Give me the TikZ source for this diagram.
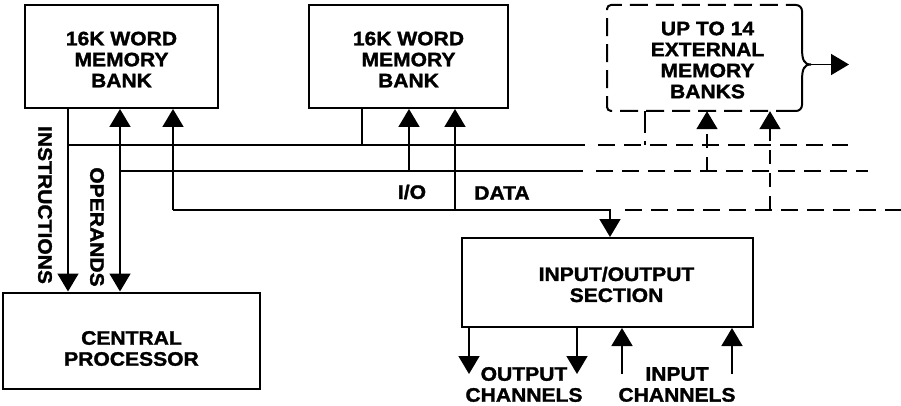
\documentclass[tikz,border=0pt]{standalone}
\usepackage{fontspec}
\setmainfont{Liberation Sans}[FakeStretch=1.08, BoldFeatures={FakeBold=1.5}]
\usetikzlibrary{arrows.meta}
\newcommand\lblfont{\fontsize{19.5}{21}\selectfont\bfseries}
\begin{document}
\begin{tikzpicture}[x=1pt,y=-1pt,
  box/.style={draw, line width=2pt, inner sep=0pt},
  lbl/.style={align=center, font=\lblfont, inner sep=0pt},
  ln/.style={line width=1.7pt},
  tip/.style={ln, -{Triangle[width=21pt,length=18pt]}},
  dsh/.style={ln, dash pattern=on 17pt off 9pt},
  vdsh/.style={ln, dash pattern=on 14pt off 9pt, -{Triangle[width=21pt,length=18pt]}}]
\useasboundingbox (0,0) rectangle (901,406);

% boxes
\node[box, minimum width=193pt, minimum height=103pt] (m1) at (121.5,56.5) {};
\node[lbl] (m1t) at ([yshift=-3pt]m1.center) {16K WORD\\MEMORY\\BANK};
\node[box, minimum width=199pt, minimum height=103pt] (m2) at (408.5,56.5) {};
\node[lbl] (m2t) at ([yshift=-3pt]m2.center) {16K WORD\\MEMORY\\BANK};
\node[inner sep=0pt, minimum width=195pt, minimum height=106pt] (m3) at (704.5,58) {};
\node[lbl] (m3t) at ([xshift=3pt,yshift=-2pt]m3.center) {UP TO 14\\EXTERNAL\\MEMORY\\BANKS};
\node[box, minimum width=257pt, minimum height=96pt] (cpu) at (131.5,340.5) {};
\node[lbl] (cput) at ([yshift=-8pt]cpu.center) {CENTRAL\\PROCESSOR};
\node[box, minimum width=291pt, minimum height=89pt] (io) at (607.5,282.5) {};
\node[lbl] (iot) at ([xshift=9pt,yshift=-2pt]io.center) {INPUT/OUTPUT\\SECTION};

% external bank outline
\draw[line width=2pt, dash pattern=on 18pt off 8pt, rounded corners=4pt]
  (794,111) -- (607,111) -- (607,5) -- (794,5);
\coordinate (br) at (811,64.5);
\coordinate (bo) at (849,64.5);
\draw[line width=2pt, rounded corners=6pt] (794,5) -- (802,5) -- (802,48);
\draw[line width=2pt] (802,48) .. controls (802,60) and (804,64.5) .. (br)
  .. controls (804,64.5) and (802,69) .. (802,81);
\draw[line width=2pt, rounded corners=6pt] (802,81) -- (802,111) -- (794,111);
\draw[tip] (br) -- (bo);

% bus coordinates
\coordinate (iA) at (68,145);
\coordinate (aS) at (585,145);
\coordinate (aD) at (598,145);
\coordinate (aE) at (848,145);
\coordinate (oB) at (120,171);
\coordinate (bS) at (583,171);
\coordinate (bD) at (596,171);
\coordinate (bE) at (868,171);
\coordinate (dC) at (173,210);
\coordinate (cC) at (610,210);
\coordinate (cD) at (625,210);
\coordinate (cE) at (901,210);

% instructions / operands
\draw[tip] (m1.south -| iA) -- (cpu.north -| iA);
\draw[ln, {Triangle[width=21pt,length=18pt]}-{Triangle[width=21pt,length=18pt]}]
  (m1.south -| oB) -- (cpu.north -| oB);
\node[lbl, rotate=-90] (instr) at (45,205) {INSTRUCTIONS};
\node[lbl, rotate=-90] (oper) at (97,227) {OPERANDS};

% buses
\draw[ln] (iA) -- (aS);
\draw[dsh] (aD) -- (aE);
\draw[ln] (oB) -- (bS);
\draw[dsh] (bD) -- (bE);
\draw[tip] (dC) -- (m1.south -| dC);
\draw[tip] (dC) -- (cC) -- (io.north -| cC);
\draw[dsh] (cD) -- (cE);

% second bank
\coordinate (m2a) at (362,145);
\coordinate (m2b) at (409,171);
\coordinate (m2c) at (455,210);
\draw[ln] (m2.south -| m2a) -- (m2a);
\draw[tip] (m2b) -- (m2.south -| m2b);
\draw[tip] (m2c) -- (m2.south -| m2c);
\node[lbl] (iolbl) at (412,192) {I/O};
\node[lbl] (datalbl) at (502,193) {DATA};

% external banks
\coordinate (m3a) at (645,145);
\coordinate (m3b) at (707,171);
\coordinate (m3c) at (770,210);
\draw[ln, dash pattern=on 22pt off 8pt] (m3.south -| m3a) -- (m3a);
\draw[vdsh] (m3b) -- (m3.south -| m3b);
\draw[vdsh] (m3c) -- (m3.south -| m3c);

% channels
\coordinate (o1) at (469,374);
\coordinate (o2) at (577,374);
\coordinate (i1) at (622,374);
\coordinate (i2) at (732,374);
\draw[tip] (io.south -| o1) -- (o1);
\draw[tip] (io.south -| o2) -- (o2);
\draw[tip] (i1) -- (io.south -| i1);
\draw[tip] (i2) -- (io.south -| i2);
\node[lbl] (outl) at (524,384.5) {OUTPUT\\CHANNELS};
\node[lbl] (inl) at (677,384.5) {INPUT\\CHANNELS};
\end{tikzpicture}
\end{document}
